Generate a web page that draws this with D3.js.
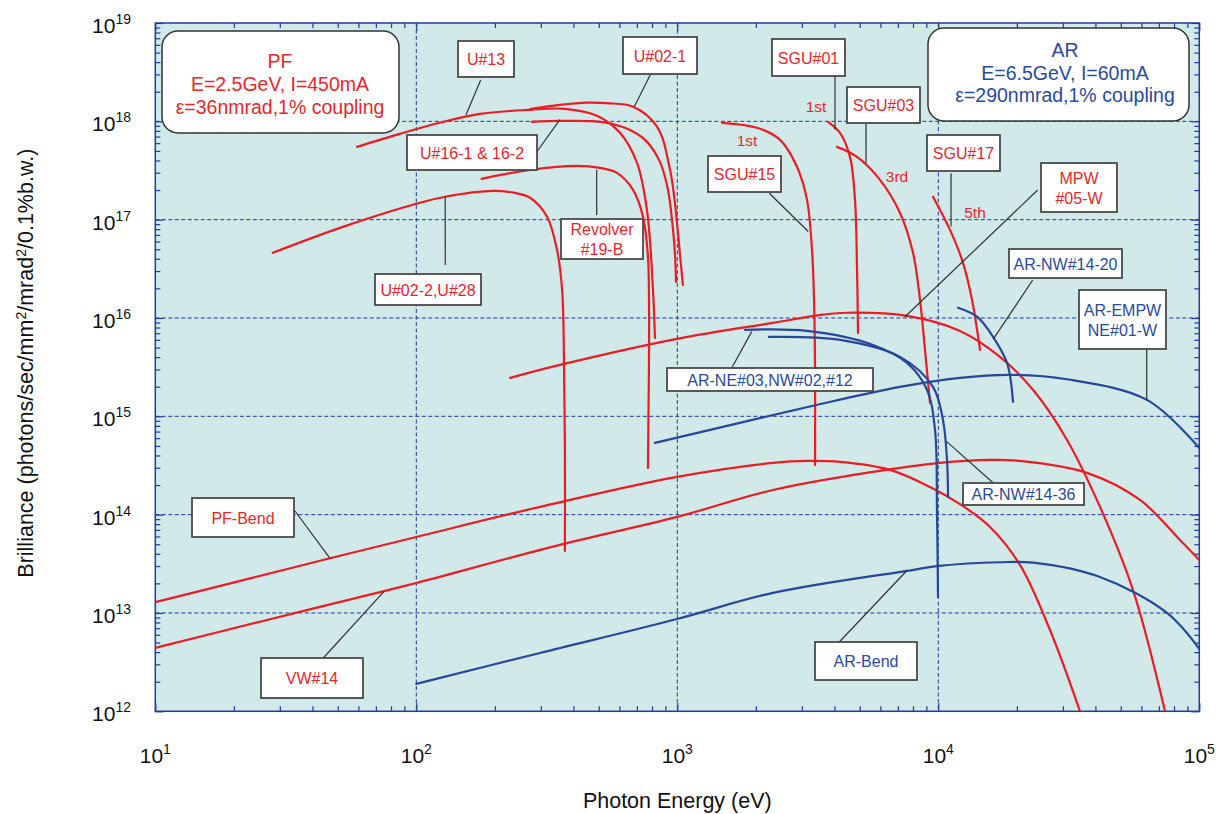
<!DOCTYPE html>
<html>
<head>
<meta charset="utf-8">
<script src="https://cdn.jsdelivr.net/npm/d3@7/dist/d3.min.js"></script>
<style>
  body { margin: 0; background: #fff; }
  text { font-family: "Liberation Sans", Arial, sans-serif; }
</style>
</head>
<body>
<script>
// ---- data: [photon energy (eV), brilliance] ----
var u13 = [[59.3,5.5e17],[86.6,7.46e17],[123,9.66e17],[175,1.19e18],[273,1.31e18],[371,1.34e18],
           [492,1.14e18],[603,7.64e17],[701,3.78e17],[765,1.26e17],[807,1.93e16],[821,6.27e15]];
var u021 = [[273,1.33e18],[355,1.47e18],[451,1.55e18],[538,1.53e18],[677,1.41e18],[836,8.85e17],
            [938,3.21e17],[998,9.21e16],[1024,4.39e16],[1051,2.17e16]];
var u16 = [[277,9.89e17],[355,1.01e18],[506,9.89e17],[630,8.59e17],[752,6.48e17],[858,3.87e17],
           [921,2.01e17],[963,7.87e16],[980,4.39e16],[989,2.33e16]];
var revolver = [[178,2.6e17],[273,3.21e17],[413,3.53e17],[506,3.36e17],[587,2.99e17],[677,2.01e17],
                [739,1.07e17],[772,4.18e16],[779,1.53e16],[779,3.75e15],[775,9.19e14],[772,2.99e14]];
var u022 = [[28.2,4.6e16],[51,8.25e16],[100,1.45e17],[129,1.71e17],[197,1.96e17],[239,1.87e17],
            [273,1.67e17],[317,1.07e17],[346,4.93e16],[362,1.93e16],[368,3.75e15],[371,4.55e14],[371,4.27e13]];
var sgu15 = [[1484,9.66e17],[2021,8.59e17],[2475,6.48e17],[2874,3.45e17],[3140,1.59e17],[3282,4.93e16],
             [3341,1.53e16],[3371,2.96e15],[3371,3.2e14]];
var sgu01 = [[3779,9.89e17],[4202,7.64e17],[4588,4.35e17],[4795,1.59e17],[4881,3.31e16],[4925,7.05e15]];
var sgu03 = [[4091,5.5e17],[4881,4.35e17],[5978,2.54e17],[7134,1.17e17],[8000,4.6e16],[8511,1.53e16],
             [8892,4.74e15],[9294,1.37e15]];
var sgu17 = [[9544,1.71e17],[11088,7.87e16],[12434,3.64e16],[13463,1.53e16],[14447,4.74e15]];
var mpw05 = [[229,2.46e15],[355,3.33e15],[998,6.13e15],[2326,8.92e15],[3616,1.08e16],[4469,1.13e16],
             [7586,1.05e16],[12110,7.39e15],[17240,4.02e15],[23060,1.86e15],[31130,5.75e14],
             [41640,1.2e14],[55720,1.71e13],[73900,1.0e12]];
var pfBend = [[10,1.29e13],[23.1,2.25e13],[46.7,3.6e13],[100,5.93e13],[298,1.2e14],[998,2.42e14],
              [2326,3.36e14],[3140,3.52e14],[4202,3.44e14],[6531,2.85e14],[9294,1.91e14],[12110,1.28e14],
              [15780,7.5e13],[20560,3.08e13],[26790,6.71e12],[34910,1.0e12]];
var vw14 = [[10,4.41e12],[25.2,8.15e12],[75.2,1.67e13],[100,2.02e13],[355,4.92e13],[998,9.48e13],
            [2326,1.78e14],[5620,2.72e14],[10150,3.36e14],[15780,3.6e14],[20560,3.52e14],
            [37130,2.66e14],[59270,1.41e14],[84330,5.53e13],[100000,3.46e13]];
var arBend = [[100,1.9e12],[298,3.92e12],[998,8.69e12],[2326,1.6e13],[7586,2.68e13],[10060,3.01e13],
              [17240,3.28e13],[23060,3.25e13],[41640,2.32e13],[75200,1.0e13],[100000,4.3e12]];
var arEmpw = [[821,5.36e14],[3311,1.28e15],[7134,1.99e15],[12110,2.46e15],[18830,2.64e15],
              [31130,2.38e15],[63040,1.47e15],[100000,4.77e14]];
var arNe03 = [[1817,7.57e15],[3140,7.39e15],[5620,5.32e15],[7586,3.49e15],[9051,1.86e15],
              [9714,7.27e14],[9886,1.04e14],[9975,1.45e13]];
var arNw1436 = [[2245,6.42e15],[4202,5.99e15],[7134,4.02e15],[9544,1.99e15],[10420,9.19e14],
                [10800,3.6e14],[10900,1.51e14]];
var arNw1420 = [[11900,1.27e16],[14070,1.03e16],[16210,6.42e15],[18340,3.49e15],[19330,1.4e15]];

var xTicks = [1e1, 1e2, 1e3, 1e4, 1e5];
var xExp = ["1", "2", "3", "4", "5"];
var yTicks = [1e12, 1e13, 1e14, 1e15, 1e16, 1e17, 1e18, 1e19];
var yExp = ["12", "13", "14", "15", "16", "17", "18", "19"];

var RED = "#ec1c24", BLUE = "#27479b", TRED = "#e8262d", TBLUE = "#2a4a9c";

var series = [
  {d: pfBend, c: RED}, {d: vw14, c: RED}, {d: mpw05, c: RED},
  {d: u13, c: RED}, {d: u021, c: RED}, {d: u16, c: RED}, {d: revolver, c: RED}, {d: u022, c: RED},
  {d: sgu15, c: RED}, {d: sgu01, c: RED}, {d: sgu03, c: RED}, {d: sgu17, c: RED},
  {d: arBend, c: BLUE}, {d: arEmpw, c: BLUE}, {d: arNe03, c: BLUE}, {d: arNw1436, c: BLUE}, {d: arNw1420, c: BLUE}
];

// labels: box [x, y, w, h] in px, leader from px point to a point on the curve [E, B]
var labels = [
  {t: ["U#13"], c: TRED, box: [458, 41, 56, 36], from: [480.7, 80], to: [155, 1.16e18]},
  {t: ["U#16-1 & 16-2"], c: TRED, box: [407, 135, 130, 35], from: [536.7, 152], to: [355, 1.04e18]},
  {t: ["U#02-2,U#28"], c: TRED, box: [375, 274, 106, 31], from: [445.3, 265], to: [129, 1.71e17]},
  {t: ["Revolver", "#19-B"], c: TRED, box: [561, 219, 82, 40], from: [596.7, 215], to: [491, 3.21e17]},
  {t: ["U#02-1"], c: TRED, box: [623, 37, 74, 37], from: [650.7, 74], to: [684, 1.41e18]},
  {t: ["SGU#01"], c: TRED, box: [772, 39, 73, 37], from: [835, 76], to: [4020, 8.19e17]},
  {t: ["SGU#03"], c: TRED, box: [847, 87, 73, 36], from: [866, 123.3], to: [5285, 3.76e17]},
  {t: ["SGU#15"], c: TRED, box: [708, 156, 73, 36], from: [769.3, 193.3], to: [3176, 7.57e16]},
  {t: ["SGU#17"], c: TRED, box: [927, 135, 73, 36], from: [951, 173.3], to: [11190, 8.51e16]},
  {t: ["MPW", "#05-W"], c: TRED, box: [1041, 163, 76, 49], from: [1037.7, 190], to: [7455, 1.03e16]},
  {t: ["AR-NW#14-20"], c: TBLUE, box: [1009, 249, 113, 29], from: [1032.7, 280], to: [16240, 6.09e15]},
  {t: ["AR-EMPW", "NE#01-W"], c: TBLUE, box: [1079, 290, 87, 59], from: [1146.7, 349.3], to: [62880, 1.44e15]},
  {t: ["AR-NE#03,NW#02,#12"], c: TBLUE, box: [667, 368, 206, 23], from: [731.7, 368], to: [1928, 7.27e15]},
  {t: ["AR-NW#14-36"], c: TBLUE, box: [963, 483, 121, 22], from: [993.3, 483], to: [10770, 5.53e14]},
  {t: ["PF-Bend"], c: TRED, box: [192, 498, 102, 39], from: [295, 511], to: [46.7, 3.6e13]},
  {t: ["VW#14"], c: TRED, box: [261, 658, 102, 40], from: [323.3, 658], to: [75.4, 1.67e13]},
  {t: ["AR-Bend"], c: TBLUE, box: [815, 642, 102, 38], from: [839.3, 642], to: [7568, 2.69e13]}
];

var harmonics = [
  {t: "1st", x: 816, y: 112}, {t: "1st", x: 747, y: 146},
  {t: "3rd", x: 897, y: 182}, {t: "5th", x: 975, y: 218}
];

var W = 1216, H = 814;
var L = 155.3, R = 1199.3, T = 23, B = 711.3;

var svg = d3.select("body").append("svg").attr("width", W).attr("height", H);

var x = d3.scaleLog().domain([10, 1e5]).range([L, R]);
var y = d3.scaleLog().domain([1e12, 1e19]).range([B, T]);

svg.append("rect").attr("x", L).attr("y", T).attr("width", R - L).attr("height", B - T)
   .attr("fill", "#d1e9e8");

svg.append("clipPath").attr("id", "plot")
   .append("rect").attr("x", L).attr("y", T).attr("width", R - L).attr("height", B - T);

// grid
var grid = svg.append("g").attr("stroke", "#1d3c9c").attr("stroke-width", 1).attr("stroke-dasharray", "4,2.5");
grid.selectAll(".gx").data(xTicks.slice(1, -1)).enter().append("line")
    .attr("x1", d => x(d)).attr("x2", d => x(d)).attr("y1", T).attr("y2", B);
grid.selectAll(".gy").data(yTicks.slice(1, -1)).enter().append("line")
    .attr("y1", d => y(d)).attr("y2", d => y(d)).attr("x1", L).attr("x2", R);

// minor + major ticks, inward on every side
var xMinor = [], yMinor = [];
for (var e = 1; e < 5; e++) for (var m = 2; m < 10; m++) xMinor.push(m * Math.pow(10, e));
for (var e = 12; e < 19; e++) for (var m = 2; m < 10; m++) yMinor.push(m * Math.pow(10, e));

function ticks(axis, vals, size, tr) {
  var g = svg.append("g").attr("transform", tr)
     .call(axis.tickValues(vals).tickSize(size).tickSizeOuter(0).tickFormat(""));
  g.select(".domain").remove();
  g.selectAll("line").attr("stroke", "#1d3c9c").attr("stroke-width", 1.2);
}
ticks(d3.axisBottom(x), xMinor, -5, `translate(0,${B})`);
ticks(d3.axisTop(x), xMinor, -5, `translate(0,${T})`);
ticks(d3.axisLeft(y), yMinor, -5, `translate(${L},0)`);
ticks(d3.axisRight(y), yMinor, -5, `translate(${R},0)`);
ticks(d3.axisBottom(x), xTicks, -8, `translate(0,${B})`);
ticks(d3.axisTop(x), xTicks, -8, `translate(0,${T})`);
ticks(d3.axisLeft(y), yTicks, -8, `translate(${L},0)`);
ticks(d3.axisRight(y), yTicks, -8, `translate(${R},0)`);

svg.append("rect").attr("x", L).attr("y", T).attr("width", R - L).attr("height", B - T)
   .attr("fill", "none").attr("stroke", "#1d3c9c").attr("stroke-width", 1.5);

// tick labels
var xl = svg.append("g").selectAll("text").data(xTicks).enter().append("text")
   .attr("x", d => x(d)).attr("y", 763).attr("text-anchor", "middle")
   .attr("font-size", 21).attr("fill", "#111");
xl.append("tspan").text("10");
xl.append("tspan").attr("dy", -9).attr("font-size", 14).text((d, i) => xExp[i]);

var yl = svg.append("g").selectAll("text").data(yTicks).enter().append("text")
   .attr("x", 131).attr("y", d => y(d) + 10).attr("text-anchor", "end")
   .attr("font-size", 21).attr("fill", "#111");
yl.append("tspan").text("10");
yl.append("tspan").attr("dy", -9).attr("font-size", 14).text((d, i) => yExp[i]);

// axis titles
svg.append("text").attr("x", (L + R) / 2).attr("y", 808).attr("text-anchor", "middle")
   .attr("font-size", 21.5).attr("fill", "#111").text("Photon Energy (eV)");

var yt = svg.append("text").attr("transform", `translate(33,${(T + B) / 2 - 4}) rotate(-90)`)
   .attr("text-anchor", "middle").attr("font-size", 21.5).attr("fill", "#111");
yt.append("tspan").text("Brilliance (photons/sec/mm");
yt.append("tspan").attr("dy", -7).attr("font-size", 14).text("2");
yt.append("tspan").attr("dy", 7).text("/mrad");
yt.append("tspan").attr("dy", -7).attr("font-size", 14).text("2");
yt.append("tspan").attr("dy", 7).text("/0.1%b.w.)");

// curves
var line = d3.line().x(d => x(d[0])).y(d => y(d[1])).curve(d3.curveCatmullRom.alpha(0.5));
svg.append("g").attr("clip-path", "url(#plot)").selectAll("path").data(series).enter().append("path")
   .attr("d", d => line(d.d)).attr("fill", "none")
   .attr("stroke", d => d.c).attr("stroke-width", 2.2).attr("stroke-linecap", "round");

// leaders and label boxes
var ann = svg.append("g");
ann.selectAll("line").data(labels).enter().append("line")
   .attr("x1", d => d.from[0]).attr("y1", d => d.from[1])
   .attr("x2", d => x(d.to[0])).attr("y2", d => y(d.to[1]))
   .attr("stroke", "#333").attr("stroke-width", 1.2);

var lb = ann.selectAll("g.lab").data(labels).enter().append("g");
lb.append("rect").attr("x", d => d.box[0]).attr("y", d => d.box[1])
  .attr("width", d => d.box[2]).attr("height", d => d.box[3])
  .attr("fill", "#fff").attr("stroke", "#4a4a4a").attr("stroke-width", 1.8);
lb.each(function (d) {
  var n = d.t.length, cx = d.box[0] + d.box[2] / 2, cy = d.box[1] + d.box[3] / 2;
  var g = d3.select(this);
  d.t.forEach(function (s, i) {
    g.append("text").attr("x", cx).attr("y", cy + 6 + (i - (n - 1) / 2) * 20)
     .attr("text-anchor", "middle").attr("font-size", 16).attr("fill", d.c).text(s);
  });
});

ann.selectAll("text.h").data(harmonics).enter().append("text")
   .attr("x", d => d.x).attr("y", d => d.y).attr("text-anchor", "middle")
   .attr("font-size", 15.5).attr("fill", TRED).text(d => d.t);

// ring info boxes
var rings = [
  {t: ["PF", "E=2.5GeV, I=450mA", "\u03b5=36nmrad,1% coupling"], c: TRED, box: [162, 31, 237, 102], tx: 280, ty: [68, 91, 114]},
  {t: ["AR", "E=6.5GeV, I=60mA", "\u03b5=290nmrad,1% coupling"], c: TBLUE, box: [928, 28, 261, 93], tx: 1065, ty: [57, 79.5, 102]}
];
var rg = svg.selectAll("g.ring").data(rings).enter().append("g");
rg.append("rect").attr("x", d => d.box[0]).attr("y", d => d.box[1])
  .attr("width", d => d.box[2]).attr("height", d => d.box[3]).attr("rx", 16)
  .attr("fill", "#fff").attr("stroke", "#333").attr("stroke-width", 1.5);
rg.each(function (d) {
  var g = d3.select(this);
  d.t.forEach(function (s, i) {
    g.append("text").attr("x", d.tx).attr("y", d.ty[i]).attr("text-anchor", "middle")
     .attr("font-size", 19.5).attr("fill", d.c).text(s);
  });
});
</script>
</body>
</html>
